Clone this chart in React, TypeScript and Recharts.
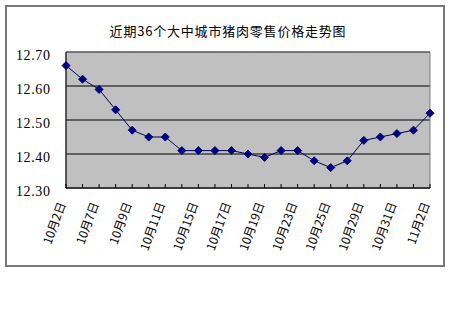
import React from "react";
import {
  LineChart,
  Line,
  XAxis,
  YAxis,
  CartesianGrid,
  ReferenceArea,
} from "recharts";

// 23 readings, only every other one carries a date label
const dates = [
  "10月2日", "", "10月7日", "", "10月9日", "", "10月11日", "", "10月15日", "",
  "10月17日", "", "10月19日", "", "10月23日", "", "10月25日", "", "10月29日", "",
  "10月31日", "", "11月2日",
];
const prices = [
  12.66, 12.62, 12.59, 12.53, 12.47, 12.45, 12.45, 12.41, 12.41, 12.41, 12.41,
  12.4, 12.39, 12.41, 12.41, 12.38, 12.36, 12.38, 12.44, 12.45, 12.46, 12.47,
  12.52,
];
const yTicks = [12.3, 12.4, 12.5, 12.6, 12.7];

const title = "近期36个大中城市猪肉零售价格走势图";
const FONT = '"Noto Sans CJK SC", "DejaVu Sans", sans-serif';
const NUM_FONT = '"Liberation Serif", "DejaVu Serif", serif';

const data = prices.map((price, i) => ({ date: dates[i], price }));

const Diamond = (props: any) => {
  const { cx, cy } = props;
  if (cx == null || cy == null) return null;
  const r = 4;
  return (
    <polygon
      points={`${cx},${cy - r} ${cx + r},${cy} ${cx},${cy + r} ${cx - r},${cy}`}
      fill="#000080"
      stroke="#000080"
    />
  );
};

const XTick = (props: any) => {
  const { x, y, payload } = props;
  const label = payload?.value ?? "";
  const ax = x;
  const ay = y + 16;
  return (
    <g>
      <line x1={x} y1={y} x2={x} y2={y - 4} stroke="#000" />
      {label ? (
        <text
          x={ax}
          y={ay}
          textAnchor="end"
          fontSize={12}
          fontFamily={FONT}
          fill="#000"
          transform={`rotate(-70, ${ax}, ${ay})`}
        >
          {label}
        </text>
      ) : null}
    </g>
  );
};

const YTick = (props: any) => {
  const { y, payload } = props;
  return (
    <text
      x={16}
      y={y + 8}
      textAnchor="start"
      fontSize={14}
      letterSpacing={0.6}
      fontFamily={NUM_FONT}
      fill="#000"
    >
      {Number(payload.value).toFixed(2)}
    </text>
  );
};

export default function App() {
  return (
    <div
      style={{
        position: "absolute",
        left: 0,
        top: 0,
        width: 450,
        height: 312,
        background: "#fff",
      }}
    >
      <div
        style={{
          position: "absolute",
          left: 5,
          top: 5,
          width: 436,
          height: 258,
          border: "2px solid #7a7a7a",
        }}
      />
      <div
        style={{
          position: "absolute",
          left: 0,
          top: 21,
          width: 450,
          textAlign: "center",
          fontSize: 13,
          letterSpacing: 0.8,
          fontFamily: FONT,
          color: "#000",
          paddingLeft: 6,
          boxSizing: "border-box",
        }}
      >
        {title}
      </div>
      <div style={{ position: "absolute", left: 0, top: 0 }}>
        <LineChart
          width={450}
          height={312}
          data={data}
          margin={{ top: 52, right: 20, bottom: 0, left: 0 }}
        >
          <CartesianGrid
            vertical={false}
            stroke="#000"
            fill="#C0C0C0"
            fillOpacity={1}
          />
          <ReferenceArea
            y1={12.3}
            y2={12.7}
            fill="none"
            stroke="#808080"
            strokeWidth={1}
          />
          <XAxis
            dataKey="date"
            interval={0}
            tickLine={false}
            tickSize={0}
            tickMargin={0}
            height={124}
            axisLine={{ stroke: "#000" }}
            tick={<XTick />}
          />
          <YAxis
            type="number"
            domain={[12.3, 12.7]}
            ticks={yTicks}
            width={66}
            tickLine={false}
            axisLine={{ stroke: "#000" }}
            tick={<YTick />}
          />
          <Line
            type="linear"
            dataKey="price"
            stroke="#000050"
            strokeWidth={1}
            dot={<Diamond />}
            activeDot={false}
            isAnimationActive={false}
          />
        </LineChart>
      </div>
    </div>
  );
}
